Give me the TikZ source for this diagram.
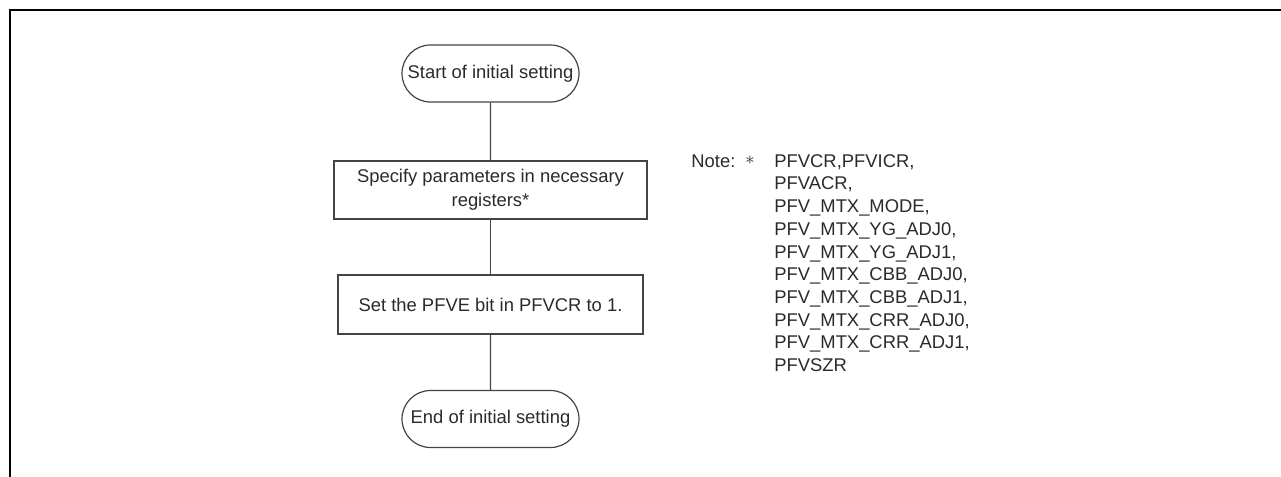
\documentclass[tikz,border=0pt]{standalone}
\usepackage{fontspec}
\setmainfont{Liberation Sans}
\usetikzlibrary{shapes.misc}
\definecolor{txt}{HTML}{2A2A2A}
\definecolor{ln}{HTML}{444444}
\tikzset{
  term/.style={rounded rectangle, draw=ln, line width=0.6pt, minimum width=88.5pt, minimum height=28.5pt, inner sep=0pt, text=txt, font=\fontsize{9.2}{12}\selectfont},
  procbox/.style={rectangle, draw=ln, line width=0.6pt, inner sep=0pt, text=txt, align=center, font=\fontsize{9.2}{12}\selectfont},
  conn/.style={draw=ln, line width=0.6pt},
  notetxt/.style={inner sep=0pt, text=txt, font=\fontsize{9.2}{11.35}\selectfont}
}
\begin{document}
\begin{tikzpicture}[x=0.5pt, y=-0.5pt]
\useasboundingbox (0,0) rectangle (1281,477);
\draw[line width=1pt, black] (10,477) -- (10,10) -- (1281,10);
\node[term] (start) at (490.5,73.5) {Start of initial setting};
\node[procbox, minimum width=156.5pt, minimum height=29pt] (spec) at (490.5,190) {Specify parameters in necessary\\registers*};
\node[procbox, minimum width=152.5pt, minimum height=29.5pt] (setb) at (490.5,304.5) {Set the PFVE bit in PFVCR to 1.};
\node[term] (endn) at (490.5,419) {End of initial setting};
\draw[conn] (start) -- (spec);
\draw[conn] (spec) -- (setb);
\draw[conn] (setb) -- (endn);
\node[notetxt, anchor=west] (note) at (691,161) {Note:};
\node[notetxt, anchor=west] (star) at (745,160) {$\ast$};
\node[notetxt, anchor=north west, align=left] (regs) at (774,154) {PFVCR,PFVICR,\\PFVACR,\\PFV\_MTX\_MODE,\\PFV\_MTX\_YG\_ADJ0,\\PFV\_MTX\_YG\_ADJ1,\\PFV\_MTX\_CBB\_ADJ0,\\PFV\_MTX\_CBB\_ADJ1,\\PFV\_MTX\_CRR\_ADJ0,\\PFV\_MTX\_CRR\_ADJ1,\\PFVSZR};
\end{tikzpicture}
\end{document}
